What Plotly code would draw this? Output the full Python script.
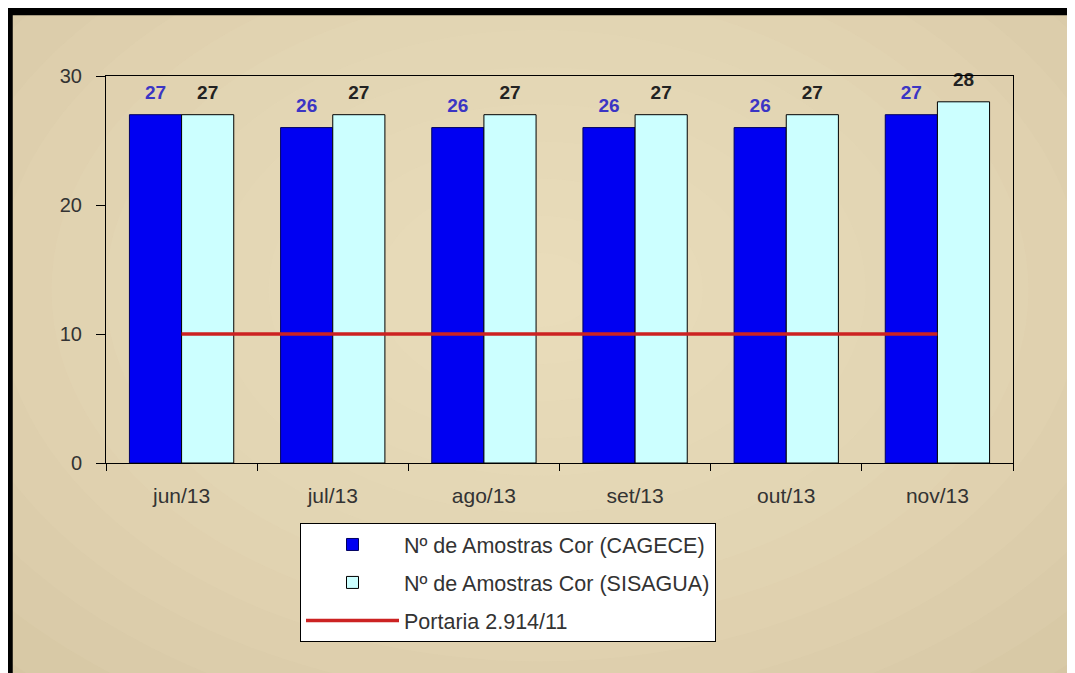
import plotly.graph_objects as go

months = ["jun/13", "jul/13", "ago/13", "set/13", "out/13", "nov/13"]
cagece = [27, 26, 26, 26, 26, 27]
sisagua = [27, 27, 27, 27, 27, 28]
portaria = [10, 10, 10, 10, 10, 10]

# page body adds an 8px offset; figure fills the rest of the window
W, H = 1067, 665
L, R, T, B = 98, 62, 68, 210
pw, ph = W - L - R, H - T - B
OFF = 8


def px(x):  # screen pixel -> paper x
    return (x - OFF - L) / pw


def py(y):  # screen pixel -> paper y
    return (H - B - (y - OFF)) / ph


label_tpl = "<span style='font-size:19px'>%{text}</span><br>\u00a0"

fig = go.Figure()
fig.add_trace(go.Bar(
    x=months, y=cagece, name="Nº de Amostras Cor (CAGECE)", legendgroup="a",
    marker=dict(color="#0000f2", line=dict(color="#000060", width=1)),
    text=cagece, texttemplate=label_tpl, textposition="outside",
    cliponaxis=False, constraintext="none",
    textfont=dict(family="Arial", size=8, color="#3b35c4", weight="bold"),
))
fig.add_trace(go.Bar(
    x=months, y=sisagua, name="Nº de Amostras Cor (SISAGUA)", legendgroup="b",
    marker=dict(color="#ccffff", line=dict(color="#000000", width=1)),
    text=sisagua, texttemplate=label_tpl, textposition="outside",
    cliponaxis=False, constraintext="none",
    textfont=dict(family="Arial", size=8, color="#222222", weight="bold"),
))
fig.add_trace(go.Scatter(
    x=months, y=portaria, name="Portaria 2.914/11", mode="lines", legendgroup="c",
    line=dict(color="#cc2222", width=3.5),
))

shapes = []
# radial-ish gradient background using concentric ellipses
cx, cy = 540, 290
n = 14
for i in range(n):
    f = 1 - i / n
    rx, ry = 760 * f, 520 * f
    shapes.append(dict(
        type="circle", xref="paper", yref="paper", layer="below",
        x0=px(cx - rx), x1=px(cx + rx), y0=py(cy + ry), y1=py(cy - ry),
        fillcolor="#f6e9cd", opacity=0.09, line=dict(width=0),
    ))
# outer black frame (only left and top edges are visible in the picture)
fx, fy = px(9), py(11.5)
shapes.append(dict(
    type="path", xref="paper", yref="paper", layer="above",
    path=f"M {fx},{py(760)} L {fx},{fy} L {px(1150)},{fy}",
    line=dict(color="#000000", width=7.5),
))

fig.update_layout(
    width=W, height=H,
    margin=dict(l=L, r=R, t=T, b=B),
    paper_bgcolor="#d6c6a3",
    plot_bgcolor="rgba(0,0,0,0)",
    barmode="group", bargap=0.31, bargroupgap=0,
    font=dict(family="Arial", size=20, color="#333333"),
    showlegend=True,
    legend=dict(
        x=px(300), y=py(523), xanchor="left", yanchor="top",
        bgcolor="#ffffff", bordercolor="#000000", borderwidth=1,
        font=dict(family="Arial", size=21.5, color="#333333"),
        traceorder="grouped", tracegroupgap=7, itemwidth=93,
    ),
    shapes=shapes,
)
fig.update_xaxes(
    type="category", showline=True, linecolor="#000000", linewidth=1,
    mirror=True, ticks="outside", ticklen=7, tickcolor="#000000",
    tickson="boundaries", showgrid=False, ticklabelstandoff=14,
    tickfont=dict(family="Arial", size=21, color="#333333"),
)
fig.update_yaxes(
    range=[0, 30], dtick=10, showline=True, linecolor="#000000", linewidth=1,
    mirror=True, ticks="outside", ticklen=9, tickcolor="#000000",
    showgrid=False, zeroline=False, ticklabelstandoff=10,
    tickfont=dict(family="Arial", size=20, color="#333333"),
)

fig.write_html(
    "out.html",
    post_script="document.documentElement.style.overflow='hidden';"
                "document.body.style.overflow='hidden';",
)
